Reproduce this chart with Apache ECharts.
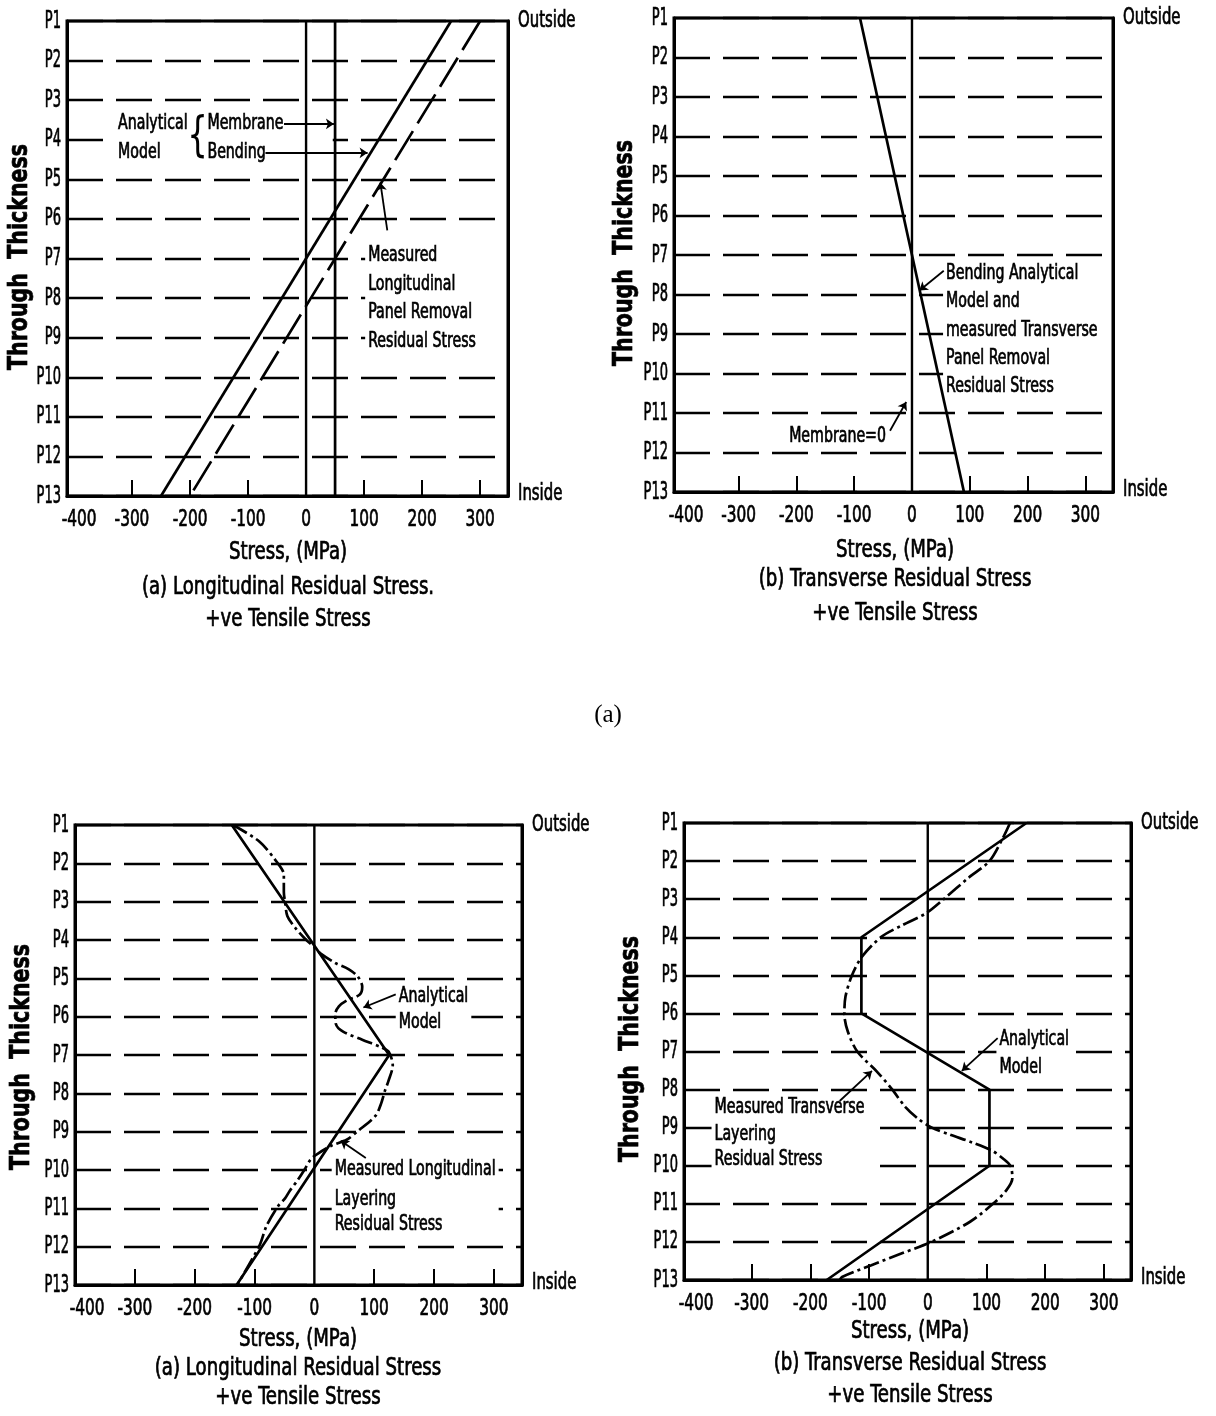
<!DOCTYPE html>
<html>
<head>
<meta charset="utf-8">
<title>Residual stress through thickness</title>
<script src="https://cdn.jsdelivr.net/npm/echarts@6.0.0/dist/echarts.min.js"></script>
<style>
  html, body { margin: 0; padding: 0; background: #fff; }
  #chart { width: 1216px; height: 1416px; }
</style>
</head>
<body>
<div id="chart"></div>
<script>
// ---------------------------------------------------------------- data ----
// Measurement stations through the plate thickness (P1 outside, P13 inside)
const positionLabels = ['P1', 'P2', 'P3', 'P4', 'P5', 'P6', 'P7', 'P8', 'P9', 'P10', 'P11', 'P12', 'P13'];
// Stress axis labels and inner tick marks (MPa)
const stressLabels = [-400, -300, -200, -100, 0, 100, 200, 300];
const stressTickMarks = [-300, -200, -100, 100, 200, 300];

// Points are [stress (MPa), station]
// Panel removal, longitudinal
const panelLongMembrane = [[50, 1], [50, 13]];
const panelLongBending = [[250, 1], [-250, 13]];
const panelLongMeasured = [[300, 1], [-200, 13]];

// Panel removal, transverse (membrane = 0)
const panelTransBending = [[-90, 1], [90, 13]];

// Layering, longitudinal
const layerLongModel = [[-138, 1], [125, 7], [-130, 13]];
const layerLongMeasured = [
  [-136, 1.00], [-92, 1.43], [-64, 1.94], [-51, 2.30], [-51, 2.75], [-49, 3.00],
  [-45, 3.38], [-32, 3.68], [-16, 3.96], [0, 4.19], [10, 4.35], [35, 4.60],
  [57, 4.76], [73, 4.96], [80, 5.22], [76, 5.42], [54, 5.58], [41, 5.73],
  [35, 5.93], [36, 6.19], [48, 6.39], [80, 6.60], [112, 6.80], [124, 6.91],
  [131, 7.27], [124, 7.67], [118, 7.93], [111, 8.29], [102, 8.59], [73, 8.98],
  [54, 9.21], [29, 9.36], [6, 9.57], [-6, 9.72], [-16, 9.98], [-29, 10.29],
  [-41, 10.54], [-49, 10.74], [-61, 10.95], [-80, 11.46], [-92, 11.98], [-129, 13.00]
];

// Layering, transverse
const layerTransModel = [[168, 1], [-113, 4], [-113, 6], [105, 8], [105, 10], [-172, 13]];
const layerTransMeasured = [
  [140, 1.00], [128, 1.39], [105, 2.00], [70, 2.43], [27, 3.00], [-3, 3.37],
  [-43, 3.68], [-79, 3.99], [-112, 4.51], [-129, 5.00], [-140, 5.55], [-142, 6.02],
  [-136, 6.48], [-120, 7.00], [-87, 7.52], [-61, 7.99], [-38, 8.46], [-16, 8.77],
  [7, 9.00], [37, 9.18], [76, 9.39], [109, 9.60], [128, 9.81], [141, 10.01],
  [144, 10.33], [134, 10.64], [111, 11.00], [72, 11.47], [6, 12.00], [-44, 12.30],
  [-96, 12.61], [-146, 12.92], [-150, 13.00]
];

// ------------------------------------------------------------- styling ----
const INK = '#000';
const FONT = "'DejaVu Sans Condensed', 'DejaVu Sans', sans-serif";
const GRID_DASH = [36, 13];
const LONG_DASH = [34, 9];
const DASH_DOT = [16, 4, 3, 4];

// narrow stencil-like lettering: condensed face squeezed horizontally
const TEXT_KIND = {
  station: { fontSize: 25, scaleX: 0.58 },
  tick:    { fontSize: 23, scaleX: 0.74 },
  side:    { fontSize: 23, scaleX: 0.72 },
  caption: { fontSize: 24, scaleX: 0.84 },
  note:    { fontSize: 21, scaleX: 0.75 },
  yName:   { fontSize: 26, scaleX: 0.88, fontWeight: 'bold' }
};

const panels = [
  { grid: { left: 67, top: 21, width: 441, height: 475 }, min: -412, max: 348,
    yName: [20, 257], xName: [288, 553], captions: ['(a) Longitudinal Residual Stress.', '+ve Tensile Stress'], capY: [588, 620] },
  { grid: { left: 674, top: 18, width: 439, height: 474 }, min: -412, max: 348,
    yName: [625, 253], xName: [895, 551], captions: ['(b) Transverse Residual Stress', '+ve Tensile Stress'], capY: [580, 614] },
  { grid: { left: 75, top: 825, width: 447, height: 460 }, min: -400, max: 347,
    yName: [22, 1057], xName: [298, 1340], captions: ['(a) Longitudinal Residual Stress', '+ve Tensile Stress'], capY: [1369, 1398] },
  { grid: { left: 684, top: 823, width: 447, height: 457 }, min: -415, max: 346,
    yName: [631, 1049], xName: [910, 1332], captions: ['(b) Transverse Residual Stress', '+ve Tensile Stress'], capY: [1364, 1396] }
];

// Leader lines for the annotations, in each panel's own stress/station space
const leaders = [
  [[[-38, 3.6], [48, 3.6]], [[-70, 4.33], [106, 4.33]], [[140, 6.29], [128, 5.08]]],
  [[[55, 7.4], [13, 7.9]], [[-38, 11.45], [-10, 10.72]]],
  [[[136, 5.42], [82, 5.76]], [[86, 9.69], [44, 9.24]]],
  [[[119, 6.65], [58, 7.51]], [[-150, 8.3], [-95, 7.51]]]
];

// Annotation blocks: lines are [text, stress, station]; the block is cleared
// of grid lines, optionally up to a given stress value or the right frame
const noteBlocks = [
  { panel: 0, align: 'left', clearTo: 46, lines: [['Analytical', -324, 3.6], ['Model', -324, 4.33]] },
  { panel: 0, align: 'left', lines: [['Membrane', -170, 3.6], ['Bending', -170, 4.33]] },
  { panel: 0, align: 'left', clearTo: 335, lines: [['Measured', 107, 6.93], ['Longitudinal', 107, 7.66],
      ['Panel Removal', 107, 8.37], ['Residual Stress', 107, 9.1]] },
  { panel: 1, align: 'left', clearTo: 'frame', lines: [['Bending Analytical', 59, 7.48], ['Model and', 59, 8.19],
      ['measured Transverse', 59, 8.92], ['Panel Removal', 59, 9.61], ['Residual Stress', 59, 10.32]] },
  { panel: 1, align: 'right', lines: [['Membrane=0', -45, 11.6]] },
  { panel: 2, align: 'left', lines: [['Analytical', 141, 5.48], ['Model', 141, 6.15]] },
  { panel: 2, align: 'left', lines: [['Measured Longitudinal', 34, 10.0], ['Layering', 34, 10.78],
      ['Residual Stress', 34, 11.43]] },
  { panel: 3, align: 'left', lines: [['Analytical', 122, 6.69], ['Model', 122, 7.41]] },
  { panel: 3, align: 'left', lines: [['Measured Transverse', -363, 8.46], ['Layering', -363, 9.18],
      ['Residual Stress', -363, 9.85]] }
];

// ---------------------------------------------------------------- axes ----
const grids = [], xAxes = [], yAxes = [], series = [];
const zeroSeriesIndex = [];

panels.forEach((p, i) => {
  grids.push(Object.assign({ show: true, borderColor: INK, borderWidth: 3, backgroundColor: 'transparent' }, p.grid));
  xAxes.push({
    type: 'value', gridIndex: i, min: p.min, max: p.max,
    axisLine: { show: true, onZero: false, lineStyle: { color: INK, width: 3 } },
    axisTick: { show: true, inside: true, length: 16, customValues: stressTickMarks, lineStyle: { color: INK, width: 2 } },
    axisLabel: { show: false },
    splitLine: { show: false }
  });
  yAxes.push({
    type: 'value', gridIndex: i, min: 1, max: 13, interval: 1, inverse: true, position: 'left',
    axisLine: { show: true, onZero: false, lineStyle: { color: INK, width: 3 } },
    axisTick: { show: false },
    axisLabel: { show: false },
    splitLine: { show: true, lineStyle: { color: INK, width: 2.4, type: GRID_DASH } }
  });
  yAxes.push({
    type: 'value', gridIndex: i, min: 1, max: 13, interval: 1, inverse: true, position: 'right',
    axisLine: { show: true, onZero: false, lineStyle: { color: INK, width: 3 } },
    axisTick: { show: false },
    axisLabel: { show: false },
    splitLine: { show: false }
  });
});

function line(panel, data, name, type, extra) {
  return Object.assign({
    type: 'line', name, xAxisIndex: panel, yAxisIndex: panel * 2, data,
    symbol: 'none', silent: true, animation: false, z: 3,
    lineStyle: { color: INK, width: 2.7, type: type || 'solid' }
  }, extra || {});
}

// zero-stress lines carry the annotation leaders
panels.forEach((p, i) => {
  zeroSeriesIndex.push(series.length);
  series.push(line(i, [[0, 1], [0, 13]], 'Zero', 'solid', {
    lineStyle: { color: INK, width: 2.4 },
    markLine: {
      silent: true, animation: false, symbol: ['none', 'arrow'], symbolSize: 8,
      label: { show: false }, emphasis: { disabled: true },
      lineStyle: { color: INK, width: 1.8, type: 'solid' },
      data: leaders[i].map(seg => [{ coord: seg[0] }, { coord: seg[1] }])
    }
  }));
});

series.push(line(0, panelLongMembrane, 'Membrane'));
series.push(line(0, panelLongBending, 'Bending'));
series.push(line(0, panelLongMeasured, 'Measured', LONG_DASH));
series.push(line(1, panelTransBending, 'Bending'));
series.push(line(2, layerLongModel, 'Analytical Model'));
series.push(line(2, layerLongMeasured, 'Measured', DASH_DOT, { smooth: 0.3 }));
series.push(line(3, layerTransModel, 'Analytical Model'));
series.push(line(3, layerTransMeasured, 'Measured', DASH_DOT, { smooth: 0.3 }));

const chart = echarts.init(document.getElementById('chart'), null, { renderer: 'canvas' });
chart.setOption({
  animation: false,
  backgroundColor: '#fff',
  grid: grids, xAxis: xAxes, yAxis: yAxes, series
});

// ---------------------------------------------------------- text layer ----
const measureCtx = document.createElement('canvas').getContext('2d');
function textWidth(str, kind) {
  const k = TEXT_KIND[kind];
  measureCtx.font = (k.fontWeight || 'normal') + ' ' + k.fontSize + 'px ' + FONT;
  return measureCtx.measureText(str).width * k.scaleX;
}

function text(str, x, y, kind, opt) {
  const k = TEXT_KIND[kind];
  return {
    type: 'text', x, y, z: 2, silent: true,
    scaleX: k.scaleX, rotation: (opt && opt.rotation) || 0,
    style: Object.assign({
      text: str, fill: INK, fontFamily: FONT, fontSize: k.fontSize,
      fontWeight: k.fontWeight || 'normal',
      align: 'center', verticalAlign: 'middle',
      stroke: INK, lineWidth: 0.7
    }, (opt && opt.style) || {})
  };
}

const clearRects = [];
const graphics = [];
panels.forEach((p, i) => {
  const toPx = pt => chart.convertToPixel({ seriesIndex: zeroSeriesIndex[i] }, pt);
  const g = p.grid;
  const bottom = g.top + g.height, right = g.left + g.width;

  // station labels on the left, surface names on the right
  positionLabels.forEach((lab, k) => {
    const y = toPx([0, k + 1])[1];
    graphics.push(text(lab, g.left - 6, y, 'station', { style: { align: 'right' } }));
  });
  graphics.push(text('Outside', right + 10, toPx([0, 1])[1], 'side', { style: { align: 'left' } }));
  graphics.push(text('Inside', right + 10, toPx([0, 13])[1] - 2, 'side', { style: { align: 'left' } }));

  // stress tick labels
  stressLabels.forEach(v => {
    const x = toPx([v, 13])[0];
    graphics.push(text(String(v), v === -400 ? Math.max(x, g.left + 12) : x, bottom + 24, 'tick'));
  });

  graphics.push(text('Through  Thickness', p.yName[0], p.yName[1], 'yName', { rotation: Math.PI / 2 }));
  graphics.push(text('Stress, (MPa)', p.xName[0], p.xName[1], 'caption'));
  graphics.push(text(p.captions[0], p.xName[0], p.capY[0], 'caption'));
  graphics.push(text(p.captions[1], p.xName[0], p.capY[1], 'caption'));
});

noteBlocks.forEach(block => {
  const p = panels[block.panel];
  const toPx = pt => chart.convertToPixel({ seriesIndex: zeroSeriesIndex[block.panel] }, pt);
  let x0 = Infinity, x1 = -Infinity, y0 = Infinity, y1 = -Infinity;
  block.lines.forEach(([str, sx, sy]) => {
    const pt = toPx([sx, sy]);
    const w = textWidth(str, 'note');
    const left = block.align === 'left' ? pt[0] : pt[0] - w;
    x0 = Math.min(x0, left - 3); x1 = Math.max(x1, left + w + 3);
    y0 = Math.min(y0, pt[1] - 12); y1 = Math.max(y1, pt[1] + 12);
    graphics.push(text(str, pt[0], pt[1], 'note', { style: { align: block.align } }));
  });
  if (block.clearTo === 'frame') x1 = p.grid.left + p.grid.width - 2;
  else if (typeof block.clearTo === 'number') x1 = Math.max(x1, toPx([block.clearTo, 1])[0]);
  clearRects.push({
    type: 'rect', z: 1, silent: true,
    shape: { x: x0, y: y0, width: x1 - x0, height: y1 - y0 },
    style: { fill: '#fff' }
  });
});

// brace grouping the membrane and bending labels
const bracePt = chart.convertToPixel({ seriesIndex: zeroSeriesIndex[0] }, [-187, 3.97]);
graphics.push(text('{', bracePt[0], bracePt[1], 'note', { style: { fontSize: 48, lineWidth: 0 } }));

graphics.push({
  type: 'text', x: 608, y: 715, z: 2, silent: true,
  style: { text: '(a)', fill: INK, fontFamily: "'Liberation Serif', 'Times New Roman', serif", fontSize: 25,
    align: 'center', verticalAlign: 'middle' }
});

chart.setOption({ graphic: { elements: clearRects.concat(graphics) } });
</script>
</body>
</html>
